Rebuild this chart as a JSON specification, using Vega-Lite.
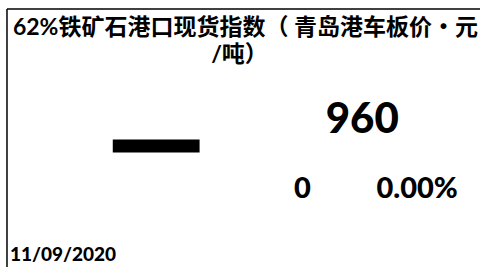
{
  "$schema": "https://vega.github.io/schema/vega-lite/v6.json",
  "width": 481,
  "height": 268,
  "padding": 0,
  "autosize": {"type": "fit", "contains": "padding"},
  "background": "white",
  "config": {"view": {"stroke": null}},
  "data": {"values": [
    {"title1": "62%铁矿石港口现货指数（ 青岛港车板价・元", "title2": "/吨）", "value": "960", "change": "0", "pct": "0.00%", "date": "11/09/2020"}
  ]},
  "encoding": {},
  "layer": [
    {
      "mark": {"type": "rule", "color": "black", "strokeWidth": 1.5},
      "encoding": {
        "x": {"datum": 7, "type": "quantitative", "scale": {"domain": [0, 481], "nice": false, "zero": false}, "axis": null},
        "x2": {"datum": 481},
        "y": {"datum": 9, "type": "quantitative", "scale": {"domain": [0, 268], "nice": false, "zero": false, "reverse": true}, "axis": null}
      }
    },
    {
      "mark": {"type": "rule", "color": "black", "strokeWidth": 1.5},
      "encoding": {
        "x": {"datum": 7, "type": "quantitative"},
        "y": {"datum": 9, "type": "quantitative"},
        "y2": {"datum": 268}
      }
    },
    {
      "mark": {"type": "rect", "color": "black"},
      "encoding": {
        "x": {"datum": 113, "type": "quantitative"},
        "x2": {"datum": 200},
        "y": {"datum": 140, "type": "quantitative"},
        "y2": {"datum": 153}
      }
    },
    {
      "mark": {"type": "text", "font": "Lato, Noto Sans CJK SC", "fontWeight": "bold", "fontSize": 23, "align": "center", "baseline": "middle", "color": "black"},
      "encoding": {
        "text": {"field": "title1"},
        "x": {"datum": 246, "type": "quantitative"},
        "y": {"datum": 28, "type": "quantitative"}
      }
    },
    {
      "mark": {"type": "text", "font": "Lato, Noto Sans CJK SC", "fontWeight": "bold", "fontSize": 23, "align": "center", "baseline": "middle", "color": "black"},
      "encoding": {
        "text": {"field": "title2"},
        "x": {"datum": 240, "type": "quantitative"},
        "y": {"datum": 55, "type": "quantitative"}
      }
    },
    {
      "mark": {"type": "text", "font": "Lato", "fontWeight": 900, "fontSize": 42, "align": "center", "baseline": "middle", "color": "black"},
      "encoding": {
        "text": {"field": "value"},
        "x": {"datum": 363, "type": "quantitative"},
        "y": {"datum": 120, "type": "quantitative"}
      }
    },
    {
      "mark": {"type": "text", "font": "Lato", "fontWeight": 900, "fontSize": 29, "align": "center", "baseline": "middle", "color": "black"},
      "encoding": {
        "text": {"field": "change"},
        "x": {"datum": 303, "type": "quantitative"},
        "y": {"datum": 190, "type": "quantitative"}
      }
    },
    {
      "mark": {"type": "text", "font": "Lato", "fontWeight": 900, "fontSize": 29, "align": "center", "baseline": "middle", "color": "black"},
      "encoding": {
        "text": {"field": "pct"},
        "x": {"datum": 418, "type": "quantitative"},
        "y": {"datum": 190, "type": "quantitative"}
      }
    },
    {
      "mark": {"type": "text", "font": "Lato", "fontWeight": 900, "fontSize": 19, "align": "left", "baseline": "middle", "color": "black"},
      "encoding": {
        "text": {"field": "date"},
        "x": {"datum": 10, "type": "quantitative"},
        "y": {"datum": 256, "type": "quantitative"}
      }
    }
  ]
}
